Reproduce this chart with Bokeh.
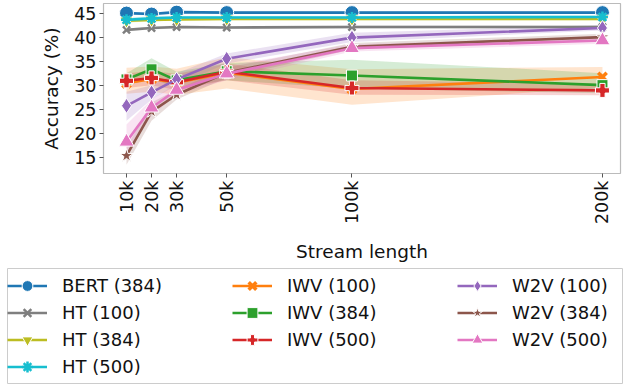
import math
from bokeh.plotting import figure
from bokeh.layouts import column
from bokeh.models import Legend, LegendItem, FixedTicker, Range1d
from bokeh.embed import file_html
from bokeh.resources import INLINE

stream = [10000, 20000, 30000, 50000, 100000, 200000]
tick_labels = ["10k", "20k", "30k", "50k", "100k", "200k"]
y_ticks = [15, 20, 25, 30, 35, 40, 45]

names = ["BERT (384)", "HT (100)", "HT (384)", "HT (500)",
         "IWV (100)", "IWV (384)", "IWV (500)",
         "W2V (100)", "W2V (384)", "W2V (500)"]

bert_384 = [45.0, 44.8, 45.2, 45.1, 45.1, 45.1]
ht_100 = [41.5, 41.9, 42.1, 42.0, 42.1, 42.1]
ht_384 = [43.4, 43.6, 43.7, 43.8, 43.8, 43.8]
ht_500 = [43.6, 43.9, 44.1, 44.1, 44.1, 44.2]
iwv_100 = [30.4, 31.3, 30.5, 32.6, 29.2, 31.7]
iwv_384 = [31.2, 33.3, 31.0, 32.9, 32.0, 30.0]
iwv_500 = [30.9, 31.5, 30.6, 32.8, 29.4, 28.9]
w2v_100 = [25.7, 28.5, 31.2, 35.5, 39.9, 41.9]
w2v_384 = [15.3, 24.5, 28.0, 32.6, 38.0, 40.0]
w2v_500 = [18.2, 25.3, 29.0, 32.4, 37.7, 39.3]

# confidence band bounds (lower, upper)
bert_384_lo = [44.7, 44.5, 44.9, 44.8, 44.8, 44.8]
bert_384_hi = [45.3, 45.1, 45.5, 45.4, 45.4, 45.4]
ht_100_lo = [41.2, 41.6, 41.8, 41.7, 41.8, 41.8]
ht_100_hi = [41.8, 42.2, 42.4, 42.3, 42.4, 42.4]
ht_384_lo = [43.0, 43.3, 43.4, 43.5, 43.5, 43.5]
ht_384_hi = [43.8, 43.9, 44.0, 44.1, 44.1, 44.1]
ht_500_lo = [43.1, 43.5, 43.8, 43.8, 43.8, 43.9]
ht_500_hi = [44.1, 44.3, 44.4, 44.4, 44.4, 44.5]
iwv_100_lo = [28.2, 28.6, 28.0, 29.3, 25.9, 29.5]
iwv_100_hi = [33.6, 33.9, 33.4, 35.8, 33.3, 33.8]
iwv_384_lo = [30.0, 31.3, 29.5, 31.0, 29.3, 28.3]
iwv_384_hi = [32.5, 35.6, 32.8, 34.6, 35.3, 32.5]
iwv_500_lo = [29.4, 30.0, 29.0, 31.0, 28.0, 27.9]
iwv_500_hi = [32.4, 33.0, 32.3, 34.5, 31.0, 30.3]
w2v_100_lo = [22.6, 27.0, 30.0, 34.5, 39.0, 41.4]
w2v_100_hi = [28.6, 30.0, 32.5, 36.6, 40.9, 42.5]
w2v_384_lo = [13.4, 22.6, 27.0, 31.5, 37.4, 39.4]
w2v_384_hi = [17.0, 26.4, 29.1, 33.6, 38.8, 40.7]
w2v_500_lo = [15.8, 23.6, 28.0, 31.0, 37.0, 38.6]
w2v_500_hi = [21.8, 27.0, 30.3, 34.0, 38.5, 40.0]

series = [bert_384, ht_100, ht_384, ht_500, iwv_100, iwv_384, iwv_500,
          w2v_100, w2v_384, w2v_500]
lows = [bert_384_lo, ht_100_lo, ht_384_lo, ht_500_lo, iwv_100_lo, iwv_384_lo,
        iwv_500_lo, w2v_100_lo, w2v_384_lo, w2v_500_lo]
highs = [bert_384_hi, ht_100_hi, ht_384_hi, ht_500_hi, iwv_100_hi, iwv_384_hi,
         iwv_500_hi, w2v_100_hi, w2v_384_hi, w2v_500_hi]

colors = ["#1f77b4", "#7f7f7f", "#bcbd22", "#17becf", "#ff7f0e", "#2ca02c",
          "#d62728", "#9467bd", "#8c564b", "#e377c2"]
markers = ["circle", "x", "inverted_triangle", "asterisk", "x", "square",
           "plus", "diamond", "star", "triangle"]
sizes = [14, 10, 13, 11, 12, 11, 14, 15, 14, 15]

FONT = "DejaVu Sans"


def add_marks(fig, xs, ys, c, m, s, name):
    lr = fig.line(xs, ys, line_color=c, line_width=2.6)
    if m in ("x", "asterisk"):
        sr = fig.scatter(xs, ys, marker=m, size=s, line_color=c,
                         line_width=3.5 if name == "IWV (100)" else 2.5)
    else:
        sr = fig.scatter(xs, ys, marker=m, size=s, fill_color=c,
                         line_color="white", line_width=1)
    return lr, sr


p = figure(width=624, height=266, output_backend="svg", toolbar_location=None,
           x_range=Range1d(818, 207200), y_range=Range1d(11.6, 47.0),
           min_border_left=103, min_border_right=4, min_border_top=3,
           min_border_bottom=93, frame_align=False)
p.grid.visible = False
p.outline_line_color = "#bbbbbb"
p.outline_line_width = 1.2
p.background_fill_color = "white"
p.border_fill_color = "white"

for ax in (p.xaxis[0], p.yaxis[0]):
    ax.axis_line_color = None
    ax.major_tick_line_color = "#555555"
    ax.major_tick_out = 4
    ax.major_tick_in = 0
    ax.minor_tick_line_color = None
    ax.major_label_text_font = FONT
    ax.major_label_text_font_size = "17.5px"
    ax.major_label_text_color = "#111111"
    ax.axis_label_text_font = FONT
    ax.axis_label_text_font_size = "18.5px"
    ax.axis_label_text_font_style = "normal"
    ax.axis_label_text_color = "#111111"

p.xaxis.ticker = FixedTicker(ticks=stream)
p.xaxis.major_label_overrides = {s: t for s, t in zip(stream, tick_labels)}
p.xaxis.major_label_orientation = math.pi / 2
p.xaxis.major_label_standoff = 3
p.xaxis.axis_label = "Stream length"
p.xaxis.axis_label_standoff = 14
p.yaxis.ticker = FixedTicker(ticks=y_ticks)
p.yaxis.major_label_standoff = 3
p.yaxis.axis_label = "Accuracy (%)"
p.yaxis.axis_label_standoff = 9

for lo, hi, c in zip(lows, highs, colors):
    p.varea(x=stream, y1=lo, y2=hi, fill_color=c, fill_alpha=0.2)

for name, ys, c, m, s in zip(names, series, colors, markers, sizes):
    add_marks(p, stream, ys, c, m, s, name)

# legend strip below the plot (matplotlib-style 3-column legend, 4/3/3)
lg = figure(width=624, height=120, output_backend="svg", toolbar_location=None,
            x_range=Range1d(0, 1), y_range=Range1d(0, 1),
            x_axis_location=None, y_axis_location=None,
            min_border_left=7, min_border_right=2, min_border_top=2,
            min_border_bottom=3, frame_align=False)
lg.grid.visible = False
lg.outline_line_color = "#cccccc"
lg.outline_line_width = 1
lg.border_fill_color = "white"
items = []
for i, (name, c, m, s) in enumerate(zip(names, colors, markers, sizes)):
    lr, sr = add_marks(lg, [float("nan")], [float("nan")], c, m, s, name)
    items.append(LegendItem(label=name, renderers=[lr, sr]))
    if i == 6:
        blank = lg.line([float("nan")], [float("nan")], line_alpha=0)
        items.append(LegendItem(label=" ", renderers=[blank]))

legend = Legend(items=items, orientation="vertical", nrows=4,
                location="center_left", label_text_font=FONT,
                label_text_font_size="18px", label_text_color="#111111",
                glyph_width=40, glyph_height=27, label_height=27,
                label_width=170, label_standoff=15, spacing=0, padding=6,
                margin=0, border_line_color=None, background_fill_alpha=0)
lg.add_layout(legend, "center")

open("out.html", "w").write(file_html(column(p, lg, spacing=0), INLINE))
